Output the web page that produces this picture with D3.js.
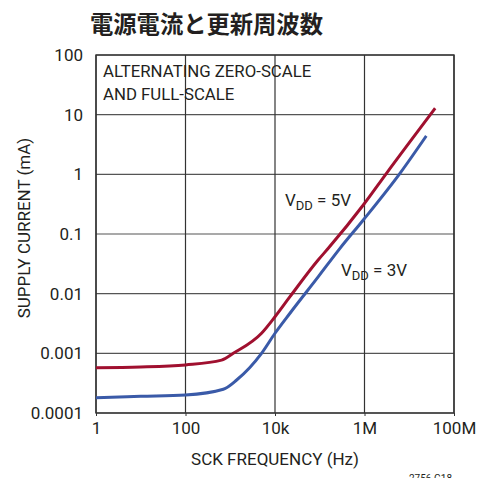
<!DOCTYPE html>
<html>
<head>
<meta charset="utf-8">
<script src="https://cdn.jsdelivr.net/npm/d3@7"></script>
<style>
  html, body { margin: 0; padding: 0; background: #fff; }
  svg { display: block; }
  text { font-family: "Roboto", "Liberation Sans", sans-serif; fill: #231f20; }
</style>
</head>
<body>
<svg id="chart" width="493" height="478"></svg>
<script>
// Supply current vs. SCK frequency, two supply voltages
const freq5V = [1, 10, 100, 640, 1170, 5000, 10000, 21600, 93000, 155000, 940000, 3.1e6, 3.8e7];
const current5V = [0.000575, 0.00059, 0.00064, 0.00077, 0.001, 0.00217, 0.0041, 0.0089, 0.037, 0.0575, 0.306, 1.04, 12.8];
const freq3V = [1, 10, 100, 700, 1390, 5000, 10000, 21600, 93000, 283000, 940000, 6.2e6, 2.4e7];
const current3V = [0.00018, 0.00019, 0.0002, 0.00025, 0.000357, 0.001, 0.00217, 0.0047, 0.0193, 0.0575, 0.172, 1.04, 4.4];

const xTicks = [1, 100, 1e4, 1e6, 1e8];
const xTickLabels = ["1", "100", "10k", "1M", "100M"];
const yTicks = [1e-4, 1e-3, 1e-2, 1e-1, 1, 10, 100];
const yTickLabels = ["0.0001", "0.001", "0.01", "0.1", "1", "10", "100"];

const title = "電源電流と更新周波数";

const svg = d3.select("#chart");
const plotL = 96, plotR = 454, plotT = 55, plotB = 413;

const x = d3.scaleLog().domain([1, 1e8]).range([plotL, plotR]);
const y = d3.scaleLog().domain([1e-4, 100]).range([plotB, plotT]);

// title
svg.append("text")
  .attr("x", 90).attr("y", 33)
  .style("font-family", "'Noto Sans CJK JP', sans-serif")
  .style("font-weight", "bold")
  .style("font-size", "23.3px")
  .text(title);

// grid
const grid = svg.append("g");
grid.selectAll("line.h").data(yTicks).join("line")
  .attr("x1", plotL).attr("x2", plotR)
  .attr("y1", d => y(d)).attr("y2", d => y(d))
  .attr("stroke", "#555").attr("stroke-width", 1.2);
grid.selectAll("line.v").data(xTicks).join("line")
  .attr("y1", plotT).attr("y2", plotB)
  .attr("x1", d => x(d)).attr("x2", d => x(d))
  .attr("stroke", "#333").attr("stroke-width", 1.2);

// frame
svg.append("rect")
  .attr("x", plotL).attr("y", plotT)
  .attr("width", plotR - plotL).attr("height", plotB - plotT)
  .attr("fill", "none").attr("stroke", "#333").attr("stroke-width", 1.4);

// axes labels
const xAxis = d3.axisBottom(x).tickValues(xTicks)
  .tickFormat((d, i) => xTickLabels[i]).tickSize(3).tickPadding(6);
const gx = svg.append("g").attr("transform", `translate(0,${plotB})`).call(xAxis);
gx.select(".domain").remove();
gx.selectAll("line").attr("stroke", "#333");
gx.selectAll("text").style("font-size", "17px")
  .style("font-family", "Roboto, sans-serif").attr("fill", "#231f20");

const yAxis = d3.axisLeft(y).tickValues(yTicks)
  .tickFormat((d, i) => yTickLabels[i]).tickSize(0).tickPadding(13);
const gy = svg.append("g").attr("transform", `translate(${plotL},0)`).call(yAxis);
gy.select(".domain").remove();
gy.selectAll("text").style("font-size", "17px")
  .style("font-family", "Roboto, sans-serif").attr("fill", "#231f20");

svg.append("text")
  .attr("x", 275).attr("y", 465)
  .attr("text-anchor", "middle")
  .style("font-size", "17px")
  .text("SCK FREQUENCY (Hz)");

svg.append("text")
  .attr("transform", "translate(30,228) rotate(-90)")
  .attr("text-anchor", "middle")
  .style("font-size", "17px")
  .text("SUPPLY CURRENT (mA)");

// note inside plot
const note = svg.append("text").style("font-size", "16.8px");
note.append("tspan").attr("x", 103).attr("y", 77).text("ALTERNATING ZERO-SCALE");
note.append("tspan").attr("x", 103).attr("y", 100).text("AND FULL-SCALE");

// curves
const line = d3.line()
  .x(d => x(d[0])).y(d => y(d[1]))
  .curve(d3.curveMonotoneX);

svg.append("path")
  .datum(d3.zip(freq3V, current3V))
  .attr("d", line)
  .attr("fill", "none").attr("stroke", "#3a5aa8").attr("stroke-width", 3);

svg.append("path")
  .datum(d3.zip(freq5V, current5V))
  .attr("d", line)
  .attr("fill", "none").attr("stroke", "#a0102f").attr("stroke-width", 3);

// curve labels
function vddLabel(px, py, val) {
  const t = svg.append("text").attr("x", px).attr("y", py).style("font-size", "17px");
  t.append("tspan").text("V");
  t.append("tspan").attr("dy", 4).style("font-size", "13px").text("DD");
  t.append("tspan").attr("dy", -4).text(" = " + val);
}
vddLabel(285, 206, "5V");
vddLabel(341, 276, "3V");

// part code
svg.append("text")
  .attr("x", 452).attr("y", 482)
  .attr("text-anchor", "end")
  .style("font-size", "10px")
  .text("2756 G18");
</script>
</body>
</html>
